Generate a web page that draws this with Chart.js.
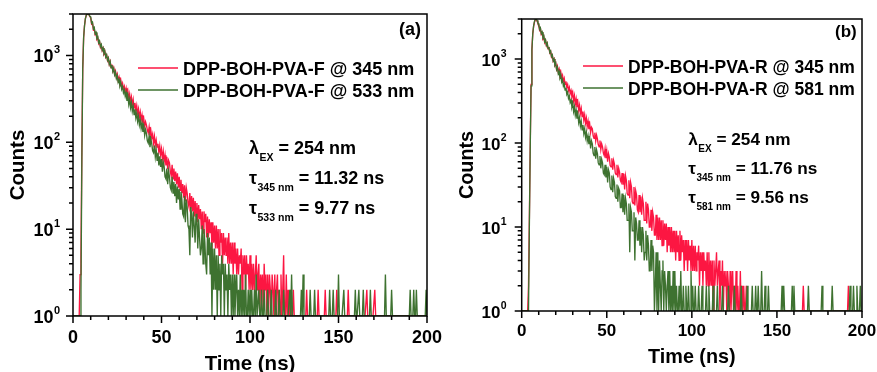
<!DOCTYPE html>
<html><head><meta charset="utf-8">
<script src="https://cdn.jsdelivr.net/npm/chart.js@4.4.1/dist/chart.umd.min.js"></script>
<style>
html,body{margin:0;padding:0;background:#fff;width:877px;height:372px;overflow:hidden;position:relative}
canvas{display:block;position:absolute;top:0}
#ca{left:0}
#cb{left:440px}
</style></head><body>
<canvas id="ca" width="470" height="380"></canvas>
<canvas id="cb" width="437" height="380"></canvas>
<script>
// ---------- data (time channels in ns, counts per channel) ----------
const TIME_NS = [
0,0.5,1,1.5,2,2.5,3,3.5,4,4.5,5,5.5,6,6.5,7,7.5,8,8.5,9,9.5,
10,10.5,11,11.5,12,12.5,13,13.5,14,14.5,15,15.5,16,16.5,17,17.5,18,18.5,19,19.5,
20,20.5,21,21.5,22,22.5,23,23.5,24,24.5,25,25.5,26,26.5,27,27.5,28,28.5,29,29.5,
30,30.5,31,31.5,32,32.5,33,33.5,34,34.5,35,35.5,36,36.5,37,37.5,38,38.5,39,39.5,
40,40.5,41,41.5,42,42.5,43,43.5,44,44.5,45,45.5,46,46.5,47,47.5,48,48.5,49,49.5,
50,50.5,51,51.5,52,52.5,53,53.5,54,54.5,55,55.5,56,56.5,57,57.5,58,58.5,59,59.5,
60,60.5,61,61.5,62,62.5,63,63.5,64,64.5,65,65.5,66,66.5,67,67.5,68,68.5,69,69.5,
70,70.5,71,71.5,72,72.5,73,73.5,74,74.5,75,75.5,76,76.5,77,77.5,78,78.5,79,79.5,
80,80.5,81,81.5,82,82.5,83,83.5,84,84.5,85,85.5,86,86.5,87,87.5,88,88.5,89,89.5,
90,90.5,91,91.5,92,92.5,93,93.5,94,94.5,95,95.5,96,96.5,97,97.5,98,98.5,99,99.5,
100,100.5,101,101.5,102,102.5,103,103.5,104,104.5,105,105.5,106,106.5,107,107.5,108,108.5,109,109.5,
110,110.5,111,111.5,112,112.5,113,113.5,114,114.5,115,115.5,116,116.5,117,117.5,118,118.5,119,119.5,
120,120.5,121,121.5,122,122.5,123,123.5,124,124.5,125,125.5,126,126.5,127,127.5,128,128.5,129,129.5,
130,130.5,131,131.5,132,132.5,133,133.5,134,134.5,135,135.5,136,136.5,137,137.5,138,138.5,139,139.5,
140,140.5,141,141.5,142,142.5,143,143.5,144,144.5,145,145.5,146,146.5,147,147.5,148,148.5,149,149.5,
150,150.5,151,151.5,152,152.5,153,153.5,154,154.5,155,155.5,156,156.5,157,157.5,158,158.5,159,159.5,
160,160.5,161,161.5,162,162.5,163,163.5,164,164.5,165,165.5,166,166.5,167,167.5,168,168.5,169,169.5,
170,170.5,171,171.5,172,172.5,173,173.5,174,174.5,175,175.5,176,176.5,177,177.5,178,178.5,179,179.5,
180,180.5,181,181.5,182,182.5,183,183.5,184,184.5,185,185.5,186,186.5,187,187.5,188,188.5,189,189.5,
190,190.5,191,191.5,192,192.5,193,193.5,194,194.5,195,195.5,196,196.5,197,197.5,198,198.5,199,199.5,
200];

// Panel (a): DPP-BOH-PVA-F @ 345 nm
const COUNTS_F_345 = [
1,1,1,1,1,1,1,1,3,5,80,700,1600,2200,2650,2900,3000,3050,2950,2800,
2720,2300,2360,1990,2050,1740,1800,1540,1600,1370,1440,1240,1310,1140,1210,1045,1100,955,1010,875,
930,790,850,725,785,668,720,612,660,565,610,518,562,480,520,442,478,406,440,376,
418,338,387,312,358,290,332,270,310,250,284,230,264,212,242,195,223,179,205,165,
186,152,172,158,138,128,150,118,136,112,124,98,117,92,106,88,96,77,91,72,
84,64,78,60,71,54,68,49,62,58,46,41,55,38,50,36,46,33,44,30,
40,28,37,26,33,23,32,21,30,26,20,18,26,17,24,16,23,14,21,14,
20,12,19,13,17,10,16,9,16,12,15,8,14,8,13,9,12,6,12,7,
11,6,11,6,10,5,10,7,9,4,9,5,8,5,8,4,9,4,7,4,
7,3,7,4,6,3,6,3,5,4,6,2,5,3,5,2,5,3,4,2,
5,2,4,2,4,2,3,5,2,3,4,1,3,2,3,1,4,2,3,1,
3,1,3,2,1,3,2,1,3,1,2,3,1,2,1,3,1,2,5,1,
1,3,1,2,1,1,2,1,1,2,1,1,1,1,1,1,1,1,1,1,
1,1,1,1,2,1,1,1,1,1,1,1,1,1,1,1,1,2,1,1,
1,1,1,1,1,2,1,1,1,1,1,1,1,1,1,1,1,1,2,1,
1,1,1,1,1,1,1,1,1,1,1,2,1,1,1,1,1,1,1,1,
1,1,1,1,1,1,1,1,1,1,1,1,2,1,1,1,1,1,1,1,
1,2,1,1,1,1,1,1,1,1,1,1,1,1,1,1,1,1,1,1,
1,1,1,1,1,1,1,1,1,1,1,1,1,1,1,1,1,1,1,1,
1,1,1,1,1,1,1,1,1,1,1,1,1,1,1,1,1,1,1,1,
1];

// Panel (a): DPP-BOH-PVA-F @ 533 nm
const COUNTS_F_533 = [
1,1,1,1,1,1,1,1,1,2,60,700,1600,2200,2650,2900,3000,3060,2980,2830,
2780,2350,2420,2040,2100,1790,1850,1580,1640,1405,1470,1265,1335,1150,1220,1055,1115,965,1020,880,
932,790,848,720,774,655,705,597,641,542,583,494,530,448,482,409,440,372,400,340,
376,300,343,274,314,250,287,228,262,209,240,191,218,174,199,159,182,145,166,132,
152,120,140,126,104,98,118,88,108,96,80,76,92,68,82,62,76,54,69,52,
64,46,59,52,40,38,50,33,47,40,30,28,40,26,35,24,33,20,31,22,
29,17,27,22,15,14,24,12,22,18,11,10,5,18,15,8,16,11,7,15,
13,6,13,8,5,6,11,4,10,7,4,3,9,5,8,3,7,1,6,2,
6,2,5,1,5,2,4,1,5,3,4,1,4,2,3,1,4,2,3,1,
3,1,3,1,2,3,1,2,1,3,1,2,1,2,1,3,1,1,2,1,
2,1,2,1,1,2,1,3,1,1,2,1,1,2,1,1,2,1,1,1,
2,1,1,1,2,1,1,1,1,2,1,1,1,2,1,1,1,1,2,1,
1,1,1,1,1,2,1,3,1,1,1,1,1,1,1,1,1,1,2,1,
3,1,1,1,1,1,1,1,2,1,1,1,1,2,1,1,1,1,1,1,
1,1,1,1,1,1,1,1,1,1,2,1,1,1,2,1,1,1,1,1,
3,1,1,1,1,1,2,1,1,1,1,1,1,1,1,1,1,1,1,2,
1,1,1,2,1,1,1,1,2,1,1,1,1,1,1,1,2,1,1,1,
1,1,1,1,1,1,1,1,1,1,1,1,1,3,1,1,1,1,1,1,
2,1,1,1,1,1,1,1,1,1,1,1,1,1,1,1,1,1,1,1,
1,2,1,1,1,2,1,1,2,1,1,1,1,1,1,1,1,1,1,2,
1];

// Panel (b): DPP-BOH-PVA-R @ 345 nm
const COUNTS_R_345 = [
1,1,1,1,1,1,1,1,2,12,90,500,1300,2000,2450,2750,2950,3000,2850,2650,
2600,2215,2310,1975,2060,1760,1840,1575,1670,1445,1530,1320,1385,1190,1240,1065,1115,950,1000,855,
895,761,824,700,757,644,696,592,640,544,588,500,542,461,498,423,458,389,421,358,
398,318,365,291,335,268,306,245,281,225,257,206,237,188,217,173,198,158,182,146,
166,134,154,148,122,114,133,106,124,112,96,90,107,84,98,90,76,71,85,66,
80,60,75,68,54,52,66,48,62,56,44,42,55,39,50,45,36,34,44,32,
43,28,41,36,25,24,36,22,34,30,20,19,30,18,27,24,16,15,24,15,
23,14,22,19,12,12,20,11,19,16,10,10,16,9,15,13,8,8,14,7,
13,7,13,7,12,6,12,6,11,7,11,5,10,6,10,5,10,5,9,5,
9,4,9,5,8,4,9,4,8,5,7,3,7,4,7,3,7,4,6,3,
7,3,6,3,6,3,5,4,6,2,5,3,5,2,5,3,4,2,5,2,
5,2,4,2,4,1,4,2,3,5,2,3,4,1,3,2,4,1,3,2,
3,1,3,2,1,3,1,2,3,1,2,1,3,1,2,1,1,3,1,2,
1,2,1,1,2,1,1,1,1,1,1,1,1,1,1,1,1,1,1,1,
1,1,1,1,1,1,1,1,1,1,1,1,1,1,1,1,1,1,1,1,
1,1,1,1,1,1,1,1,1,1,1,1,1,1,1,1,1,1,1,1,
1,1,1,1,1,1,1,1,1,1,1,2,1,1,1,1,1,1,1,1,
1,1,1,1,1,1,1,1,1,1,1,1,1,1,1,1,1,1,1,1,
1,1,1,1,1,1,1,1,1,1,1,1,1,1,1,1,1,1,1,1,
1,1,1,1,2,1,1,1,1,1,1,1,1,1,1,1,1,1,1,1,
1];

// Panel (b): DPP-BOH-PVA-R @ 581 nm
const COUNTS_R_581 = [
1,1,1,1,1,1,1,1,1,10,80,480,1280,2000,2480,2800,2980,3030,2900,2700,
2645,2250,2350,2015,2100,1795,1880,1615,1700,1465,1545,1330,1395,1200,1250,1075,1120,955,1000,850,
895,751,800,670,714,599,638,535,570,478,509,427,455,381,406,340,362,304,323,272,
300,238,271,215,245,195,221,176,201,159,181,144,164,130,148,117,134,106,121,97,
114,86,106,98,76,71,90,65,83,75,58,55,70,50,64,58,44,42,55,39,
52,34,48,44,30,28,41,26,38,34,23,22,32,20,29,27,17,17,25,15,
24,14,22,19,12,12,19,5,17,15,9,9,15,4,13,11,7,7,12,6,
10,5,10,8,4,5,9,4,8,6,3,3,7,3,6,5,1,2,5,1,
5,1,4,2,1,3,4,1,3,2,1,2,3,1,3,1,2,1,3,1,
3,1,2,1,1,2,1,3,1,1,2,1,1,2,1,1,2,1,1,3,
1,2,1,1,2,1,1,1,2,1,1,1,2,1,1,1,1,2,1,1,
2,1,1,1,1,2,1,1,1,1,2,1,1,1,1,1,2,1,1,1,
1,1,1,2,1,1,1,1,1,1,2,1,1,1,1,1,1,1,2,1,
1,1,1,1,1,2,1,1,1,1,1,2,1,1,1,2,1,1,2,1,
1,1,3,1,1,1,2,1,1,1,2,1,1,1,1,1,1,1,1,1,
1,1,1,1,1,1,2,1,2,1,1,1,1,1,1,1,1,1,2,1,
2,1,1,1,1,1,1,1,1,1,1,1,1,1,1,1,1,2,1,1,
1,1,1,1,1,1,1,1,1,1,1,1,1,2,1,1,1,1,1,1,
1,1,1,1,1,2,1,1,1,1,1,1,1,1,1,1,1,1,1,1,
1,1,1,1,1,1,2,1,1,1,2,1,1,1,2,1,1,1,2,1,
1];

const X_TICKS = [0, 50, 100, 150, 200];
const Y_TICK_VALUES = [1, 10, 100, 1000];
const Y_TICK_EXPONENTS = ['0', '1', '2', '3'];
const X_TITLE = 'Time (ns)';
const Y_TITLE = 'Counts';
const LABELS_A = ['DPP-BOH-PVA-F @ 345 nm', 'DPP-BOH-PVA-F @ 533 nm'];
const LABELS_B = ['DPP-BOH-PVA-R @ 345 nm', 'DPP-BOH-PVA-R @ 581 nm'];
const NOTES_A = [['λ', 'EX', '= 254 nm'], ['τ', '345 nm', '= 11.32 ns'], ['τ', '533 nm', '= 9.77 ns']];
const NOTES_B = [['λ', 'EX', '= 254 nm'], ['τ', '345 nm', '= 11.76 ns'], ['τ', '581 nm', '= 9.56 ns']];

// ---------- styling ----------
const FONT = '"Liberation Sans", Arial, Helvetica, sans-serif';
const RED = 'rgb(252,22,66)';
const GREEN = 'rgb(62,114,48)';

function decor(P) {
  return {
    id: 'decor',
    afterDatasetsDraw(chart) {
      const ctx = chart.ctx, ca = chart.chartArea;
      const xs = chart.scales.x, ys = chart.scales.y;
      ctx.save();
      ctx.strokeStyle = '#000';
      ctx.lineWidth = 1.5;
      ctx.strokeRect(ca.left, ca.top, ca.right - ca.left, ca.bottom - ca.top);
      ctx.beginPath();
      for (let v = 0; v <= 200; v += 10) {
        const px = xs.getPixelForValue(v);
        const len = (v % 50 === 0) ? 7 : 4;
        ctx.moveTo(px, ca.bottom); ctx.lineTo(px, ca.bottom + len);
      }
      for (let d = 1; d <= 1000; d *= 10) {
        for (let m = 1; m <= 9; m++) {
          const v = m * d;
          if (v > 3000) break;
          const py = ys.getPixelForValue(v);
          const len = (m === 1) ? 7 : 4;
          ctx.moveTo(ca.left, py); ctx.lineTo(ca.left - len, py);
        }
      }
      ctx.stroke();
      // y tick labels 10^n
      ctx.fillStyle = '#000';
      ctx.textBaseline = 'alphabetic';
      Y_TICK_VALUES.forEach((v, i) => {
        const py = ys.getPixelForValue(v);
        ctx.font = 'bold ' + P.expSize + 'px ' + FONT;
        ctx.textAlign = 'right';
        const ew = ctx.measureText(Y_TICK_EXPONENTS[i]).width;
        ctx.fillText(Y_TICK_EXPONENTS[i], P.labX, py - 2.5);
        ctx.font = 'bold ' + P.tick + 'px ' + FONT;
        ctx.fillText('10', P.labX - ew - 0.3, py + 7);
      });
      // legend
      ctx.textAlign = 'left';
      chart.data.datasets.forEach((ds, i) => {
        const y = P.legY[i];
        ctx.strokeStyle = ds.borderColor;
        ctx.lineWidth = 1.6;
        ctx.beginPath(); ctx.moveTo(P.legX1, y); ctx.lineTo(P.legX2, y); ctx.stroke();
        ctx.font = 'bold ' + P.legFont + 'px ' + FONT;
        ctx.fillText(ds.label, P.legTX, y + 6.8);
      });
      // annotations
      P.notes.forEach((n, i) => {
        const yb = P.noteY[i];
        let x = P.noteX;
        ctx.font = 'bold ' + P.noteFont + 'px ' + FONT;
        ctx.fillText(n[0], x, yb);
        x += ctx.measureText(n[0]).width + 0.5;
        ctx.font = 'bold ' + P.subFont + 'px ' + FONT;
        ctx.fillText(n[1], x, yb + 7);
        x += ctx.measureText(n[1]).width;
        ctx.font = 'bold ' + P.noteFont + 'px ' + FONT;
        ctx.fillText(' ' + n[2], x, yb);
      });
      ctx.font = 'bold ' + P.tagFont + 'px ' + FONT;
      ctx.fillText(P.tag, P.tagX, P.tagY);
      ctx.restore();
    }
  };
}

function panel(id, P) {
  return new Chart(document.getElementById(id), {
    type: 'line',
    data: {
      labels: TIME_NS,
      datasets: [
        { label: P.labels[0], data: P.series[0], borderColor: RED, borderWidth: 1.35, pointRadius: 0, tension: 0, order: 1 },
        { label: P.labels[1], data: P.series[1], borderColor: GREEN, borderWidth: 1.35, pointRadius: 0, tension: 0, order: 0 }
      ]
    },
    options: {
      responsive: false, animation: false, devicePixelRatio: 1,
      layout: { padding: { left: 0, top: P.top, right: P.right, bottom: 0 } },
      plugins: { legend: { display: false }, tooltip: { enabled: false } },
      scales: {
        x: {
          type: 'linear', min: 0, max: 200,
          grid: { display: false, drawTicks: false }, border: { display: false },
          afterBuildTicks: s => { s.ticks = X_TICKS.map(v => ({ value: v })); },
          ticks: { autoSkip: false, maxRotation: 0, padding: P.xpad, color: '#000',
                   font: { family: FONT, size: P.tick, weight: 'bold' } },
          title: { display: true, text: X_TITLE, color: '#000',
                   font: { family: FONT, size: P.titleFont, weight: 'bold' }, padding: { top: 0, bottom: P.xtpad } },
          afterFit: s => { s.height = P.xh; s.paddingLeft = 0; s.paddingRight = 0; }
        },
        y: {
          type: 'logarithmic', min: 1, max: 3000,
          grid: { display: false, drawTicks: false }, border: { display: false },
          ticks: { display: false },
          title: { display: true, text: Y_TITLE, color: '#000',
                   font: { family: FONT, size: P.titleFont, weight: 'bold' }, padding: { top: P.ytpad, bottom: 0 } },
          afterFit: s => { s.width = P.yw; s.paddingTop = 0; s.paddingBottom = 0; }
        }
      }
    },
    plugins: [decor(P)]
  });
}

panel('ca', {
  labels: LABELS_A, series: [COUNTS_F_345, COUNTS_F_533],
  top: 14, right: 43, yw: 73, xh: 64, xpad: 11, xtpad: 3, ytpad: 6,
  tick: 18, expSize: 11, labX: 60, titleFont: 20.5,
  legX1: 138, legX2: 178, legTX: 183, legY: [68, 90], legFont: 18,
  notes: NOTES_A, noteX: 249, noteY: [154, 184, 214], noteFont: 18, subFont: 10.5,
  tag: '(a)', tagX: 399, tagY: 35, tagFont: 18
});

panel('cb', {
  labels: LABELS_B, series: [COUNTS_R_345, COUNTS_R_581],
  top: 19, right: 15, yw: 81.7, xh: 69, xpad: 10, xtpad: 11, ytpad: 15.5,
  tick: 17, expSize: 10.5, labX: 66.5, titleFont: 19.8,
  legX1: 143, legX2: 183, legTX: 188, legY: [66, 88], legFont: 17.5,
  notes: NOTES_B, noteX: 248.3, noteY: [145, 174, 203.3], noteFont: 17.2, subFont: 10,
  tag: '(b)', tagX: 395, tagY: 37, tagFont: 17
});
</script>
</body></html>
